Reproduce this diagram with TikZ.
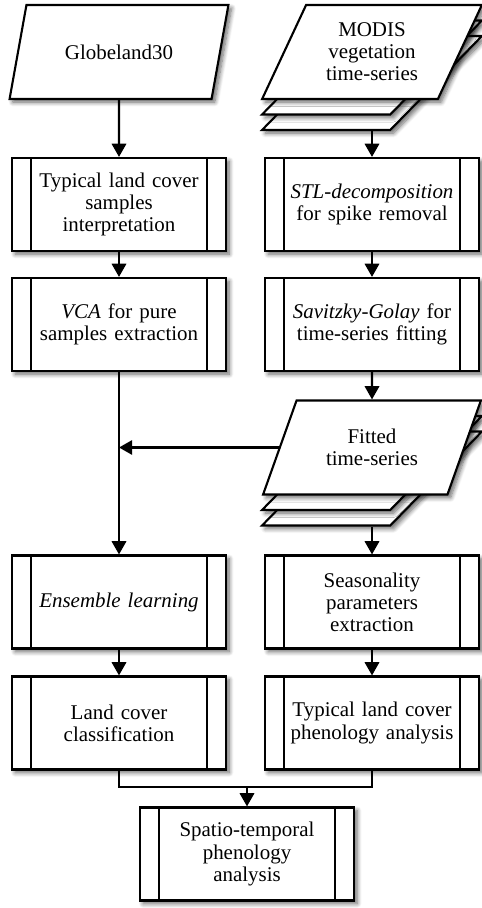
\documentclass[tikz,border=0pt]{standalone}
\usepackage{fontspec}
\setmainfont{Liberation Serif}
\usetikzlibrary{shapes.geometric,arrows.meta,shadows.blur}

\tikzset{
    % Predefined process box with two inner bars
    process/.style={draw, line width=1.5pt, fill=white,
        minimum width=5.35cm, minimum height=2.325cm,
        text width=4.3cm, align=center, inner sep=0pt,
        font=\fontsize{14.9}{15.7}\selectfont,
        blur shadow={shadow blur steps=8, shadow xshift=0.8mm, shadow yshift=-0.8mm, shadow blur radius=1.1mm, shadow opacity=60},
        path picture={
            \draw[line width=1.5pt] ([xshift=0.475cm]path picture bounding box.north west) -- ([xshift=0.475cm]path picture bounding box.south west);
            \draw[line width=1.5pt] ([xshift=-0.475cm]path picture bounding box.north east) -- ([xshift=-0.475cm]path picture bounding box.south east);
        }},
    % Data input as parallelogram
    data/.style={trapezium, trapezium left angle=63, trapezium right angle=117,
        trapezium stretches=true, draw, line width=1.5pt, fill=white,
        minimum width=5.5cm, minimum height=2.35cm, align=center, inner sep=2pt,
        font=\fontsize{14.9}{15.7}\selectfont,
        blur shadow={shadow blur steps=8, shadow xshift=0.8mm, shadow yshift=-0.8mm, shadow blur radius=1.1mm, shadow opacity=60}},
    flow/.style={line width=1.5pt}
}

\begin{document}
\begin{tikzpicture}[>={Triangle[length=0.33cm,width=0.36cm]}]

    % Fixes the page size
    \useasboundingbox (0,0) rectangle (12.025,22.7);

    % Left input
    \node[data] (globe) at (2.975,21.4) {Globeland30};

    % Right input, drawn as a stack of three sheets
    \foreach \k in {2,1} {
        \node[data] (modis\k) at (9.3,21.4-0.3875*\k) {\strut};
    }
    \node[data] (modis) at (9.3,21.4) {MODIS\\vegetation\\time-series};

    % First and second rows of processes
    \node[process] (samples) at (2.975,17.5875) {Typical land cover\\samples\\interpretation};
    \node[process] (stl) at (9.3,17.5875) {\textit{STL-decomposition}\\for spike removal};
    \node[process] (vca) at (2.975,14.5875) {\textit{VCA} for pure\\samples extraction};
    \node[process] (sg) at (9.3,14.5875) {\textit{Savitzky-Golay} for\\time-series fitting};

    % Fitted data, again as a stack
    \foreach \k in {2,1} {
        \node[data] (fitted\k) at (9.3,11.5125-0.3875*\k) {\strut};
    }
    \node[data] (fitted) at (9.3,11.5125) {Fitted\\time-series};

    % Lower rows of processes
    \node[process] (ensemble) at (2.975,7.65) {\textit{Ensemble learning}};
    \node[process] (season) at (9.3,7.65) {Seasonality\\parameters\\extraction};
    \node[process] (landcls) at (2.975,4.625) {Land cover\\classification};
    \node[process] (pheno) at (9.3,4.625) {Typical land cover\\phenology analysis};
    \node[process] (spatio) at (6.175,1.35) {Spatio-temporal\\phenology\\analysis};

    % Connectors of the left column
    \draw[flow,->] (globe.south) -- (samples.north);
    \draw[flow,->] (samples.south) -- (vca.north);
    \draw[flow,->] (vca.south) -- (ensemble.north);
    \draw[flow,->] (ensemble.south) -- (landcls.north);

    % Connectors of the right column
    \draw[flow,->] (modis2.south) -- (stl.north);
    \draw[flow,->] (stl.south) -- (sg.north);
    \draw[flow,->] (sg.south) -- (fitted.north);
    \draw[flow,->] (fitted2.south) -- (season.north);
    \draw[flow,->] (season.south) -- (pheno.north);

    % Fitted series also feed the classification
    \coordinate (join) at (vca.south |- fitted.west);
    \draw[flow,->] (fitted.west) -- (join);

    % Both results merge into the final analysis
    \coordinate (merge) at ([yshift=0.475cm]spatio.north);
    \draw[flow] (landcls.south) |- (merge) -| (pheno.south);
    \draw[flow,->] (merge) -- (spatio.north);

\end{tikzpicture}
\end{document}
